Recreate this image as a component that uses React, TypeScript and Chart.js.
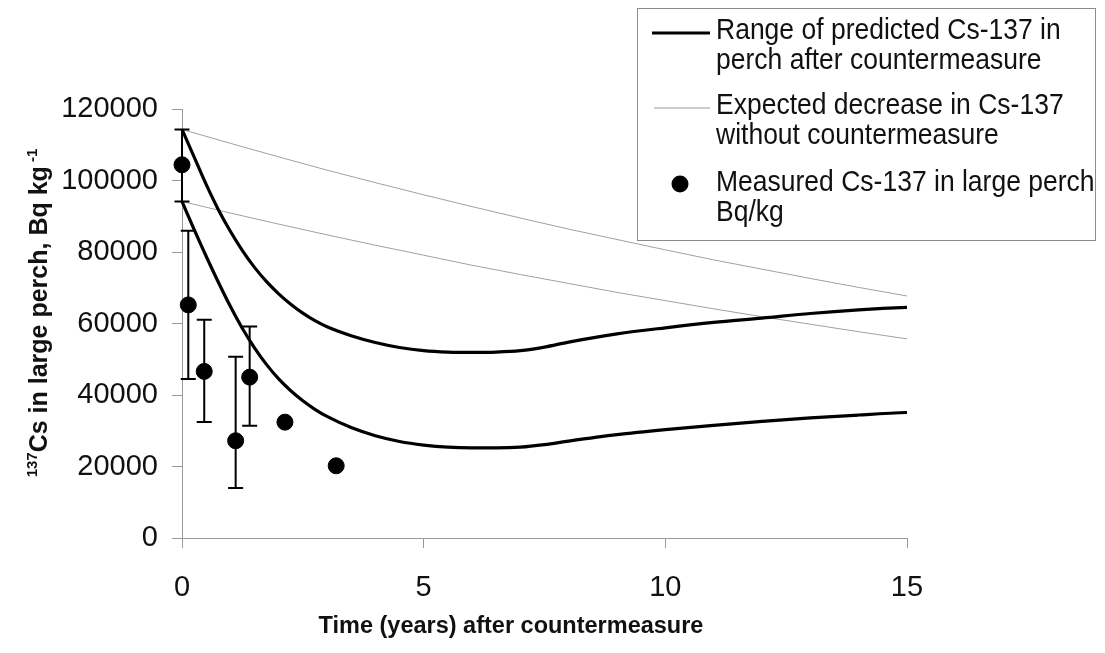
import React, { useEffect, useRef } from "react";
import { Chart, registerables } from "chart.js";

Chart.register(...registerables);

// ---- Data ----
const predX = [0, 0.25, 0.5, 0.75, 1, 1.25, 1.5, 1.75, 2, 2.25, 2.5, 2.75, 3, 3.5, 4, 4.5, 5, 5.5, 6, 6.5, 7, 7.5, 8, 9, 10, 11, 12, 13, 14, 15, 15.25];
const upperPred = [114300, 106600, 98900, 91900, 85800, 80400, 75700, 71700, 68300, 65400, 62900, 60800, 59100, 56600, 54700, 53300, 52400, 52000, 51900, 52000, 52400, 53400, 54800, 57100, 58800, 60300, 61500, 62800, 63800, 64500, 64600];
const lowerPred = [94150, 86300, 78800, 71600, 64800, 58600, 53200, 48500, 44500, 41200, 38400, 36000, 34000, 30900, 28600, 27000, 26000, 25400, 25200, 25200, 25400, 26100, 27100, 28900, 30300, 31500, 32600, 33600, 34400, 35100, 35200];

const noCmX = [0, 1, 2, 3, 4, 5, 6, 7, 8, 9, 10, 11, 12, 13, 14, 15, 15.25];
const noCmUpper = [114300, 110400, 106600, 102900, 99400, 96000, 92700, 89500, 86400, 83500, 80600, 77800, 75200, 72600, 70100, 67700, 67100];
const noCmLower = [94150, 90900, 87800, 84800, 81900, 79100, 76300, 73700, 71200, 68700, 66400, 64100, 61900, 59800, 57700, 55700, 55400];

const measX = [0, 0.13, 0.46, 1.11, 1.4, 2.13, 3.19];
const measY = [104400, 65200, 46600, 27200, 45000, 32400, 20200];
const errLow = [94150, 44470, 32440, 13990, 31410, null, null];
const errHigh = [114300, 85960, 61060, 50710, 59190, null, null];

const xTicks = [0, 5, 10, 15];
const yTicks = [0, 20000, 40000, 60000, 80000, 100000, 120000];

const legendItems = [
  ["Range of predicted Cs-137 in", "perch after countermeasure"],
  ["Expected decrease in Cs-137", "without countermeasure"],
  ["Measured Cs-137 in large perch", "Bq/kg"],
];
const xTitle = "Time (years) after countermeasure";
const yTitleParts = [
  { text: "137", sup: true },
  { text: "Cs in large perch, Bq kg", sup: false },
  { text: " -1", sup: true },
];

const FONT = '"Liberation Sans", Arial, sans-serif';
const W = 1105;
const H = 653;

const decorPlugin = {
  id: "decor",
  afterDatasetsDraw(chart: any) {
    const ctx = chart.ctx;
    const xs = chart.scales.x;
    const ys = chart.scales.y;
    ctx.save();
    ctx.strokeStyle = "#000";
    ctx.lineWidth = 2;
    for (let i = 0; i < measX.length; i++) {
      const lo = errLow[i];
      const hi = errHigh[i];
      if (lo == null || hi == null) continue;
      const px = xs.getPixelForValue(measX[i]);
      const pl = ys.getPixelForValue(lo);
      const ph = ys.getPixelForValue(hi);
      ctx.beginPath();
      ctx.moveTo(px, pl);
      ctx.lineTo(px, ph);
      ctx.moveTo(px - 7.5, pl);
      ctx.lineTo(px + 7.5, pl);
      ctx.moveTo(px - 7.5, ph);
      ctx.lineTo(px + 7.5, ph);
      ctx.stroke();
    }
    ctx.restore();
  },
  afterDraw(chart: any) {
    const ctx = chart.ctx;
    ctx.save();

    // Legend box
    const bx = 637.5, by = 8.5, bw = 458, bh = 232;
    ctx.fillStyle = "#fff";
    ctx.fillRect(bx, by, bw, bh);
    ctx.strokeStyle = "#8c8c8c";
    ctx.lineWidth = 1;
    ctx.strokeRect(bx, by, bw, bh);

    const textX = 716;
    const rowY = [[31, 61], [106, 136], [183, 213]];
    ctx.font = `26.5px ${FONT}`;
    ctx.fillStyle = "#111";
    ctx.textBaseline = "middle";
    ctx.textAlign = "left";
    legendItems.forEach((lines, i) => {
      lines.forEach((t, j) => {
        ctx.save();
        ctx.translate(textX, rowY[i][j]);
        ctx.scale(1, 1.1);
        ctx.fillText(t, 0, 0);
        ctx.restore();
      });
    });
    // symbols
    ctx.strokeStyle = "#000";
    ctx.lineWidth = 3;
    ctx.beginPath();
    ctx.moveTo(652, rowY[0][0] + 2);
    ctx.lineTo(710, rowY[0][0] + 2);
    ctx.stroke();
    ctx.strokeStyle = "#9a9a9a";
    ctx.lineWidth = 1;
    ctx.beginPath();
    ctx.moveTo(654, rowY[1][0] + 2);
    ctx.lineTo(710, rowY[1][0] + 2);
    ctx.stroke();
    ctx.fillStyle = "#000";
    ctx.beginPath();
    ctx.arc(680, rowY[2][0] + 1, 8.5, 0, Math.PI * 2);
    ctx.fill();

    // X title
    ctx.fillStyle = "#111";
    ctx.font = `bold 23.5px ${FONT}`;
    ctx.textAlign = "center";
    ctx.textBaseline = "alphabetic";
    ctx.fillText(xTitle, 511, 633);

    // Y title (rotated, with superscripts)
    const mainFont = `bold 25px ${FONT}`;
    const supFont = `bold 15px ${FONT}`;
    let total = 0;
    const widths = yTitleParts.map((p) => {
      ctx.font = p.sup ? supFont : mainFont;
      const w = ctx.measureText(p.text).width;
      total += w;
      return w;
    });
    ctx.translate(47, 313);
    ctx.rotate(-Math.PI / 2);
    ctx.textAlign = "left";
    ctx.textBaseline = "alphabetic";
    let cx = -total / 2;
    yTitleParts.forEach((p, i) => {
      ctx.font = p.sup ? supFont : mainFont;
      ctx.fillText(p.text, cx, p.sup ? -10 : 0);
      cx += widths[i];
    });
    ctx.restore();
  },
};

export default function App() {
  const ref = useRef<HTMLCanvasElement | null>(null);
  useEffect(() => {
    if (!ref.current) return;
    const toPts = (xs: number[], ys: number[]) => xs.map((x, i) => ({ x, y: ys[i] }));
    const chart = new Chart(ref.current, {
      type: "scatter",
      data: {
        datasets: [
          {
            type: "line",
            data: toPts(noCmX, noCmUpper),
            borderColor: "#a0a0a0",
            borderWidth: 1,
            pointRadius: 0,
            tension: 0,
            clip: false,
            order: 3,
          },
          {
            type: "line",
            data: toPts(noCmX, noCmLower),
            borderColor: "#a0a0a0",
            borderWidth: 1,
            pointRadius: 0,
            tension: 0,
            clip: false,
            order: 3,
          },
          {
            type: "line",
            data: toPts(predX, upperPred),
            borderColor: "#000",
            borderWidth: 3.2,
            pointRadius: 0,
            cubicInterpolationMode: "monotone",
            clip: false,
            order: 2,
          },
          {
            type: "line",
            data: toPts(predX, lowerPred),
            borderColor: "#000",
            borderWidth: 3.2,
            pointRadius: 0,
            cubicInterpolationMode: "monotone",
            clip: false,
            order: 2,
          },
          {
            type: "scatter",
            data: toPts(measX, measY),
            backgroundColor: "#000",
            borderColor: "#000",
            pointRadius: 8,
            showLine: false,
            clip: false,
            order: 1,
          },
        ] as any,
      },
      options: {
        responsive: false,
        animation: false,
        events: [],
        layout: { padding: { top: 109, right: 198, bottom: 0, left: 0 } },
        plugins: {
          legend: { display: false },
          tooltip: { enabled: false },
          title: { display: false },
        },
        scales: {
          x: {
            type: "linear",
            min: 0,
            max: 15,
            afterBuildTicks: (s: any) => {
              s.ticks = xTicks.map((v) => ({ value: v }));
            },
            afterFit: (s: any) => {
              s.height = H - 538;
            },
            grid: { drawOnChartArea: false, drawTicks: true, tickLength: 10, color: "#9a9a9a", lineWidth: 1 },
            border: { color: "#9a9a9a", width: 1 },
            ticks: { font: { family: FONT, size: 29 }, color: "#111", padding: 23, maxRotation: 0 },
          },
          y: {
            type: "linear",
            min: 0,
            max: 120000,
            afterBuildTicks: (s: any) => {
              s.ticks = yTicks.map((v) => ({ value: v }));
            },
            afterFit: (s: any) => {
              s.width = 182;
            },
            grid: { drawOnChartArea: false, drawTicks: true, tickLength: 10, color: "#9a9a9a", lineWidth: 1 },
            border: { color: "#9a9a9a", width: 1 },
            ticks: { font: { family: FONT, size: 29 }, color: "#111", padding: 14, callback: (v: any) => String(v) },
          },
        },
      } as any,
      plugins: [decorPlugin],
    });
    return () => chart.destroy();
  }, []);
  return (
    <div style={{ position: "fixed", left: 0, top: 0, width: W, height: H, background: "#fff" }}>
      <canvas ref={ref} width={W} height={H} style={{ width: W, height: H, display: "block" }} />
    </div>
  );
}
